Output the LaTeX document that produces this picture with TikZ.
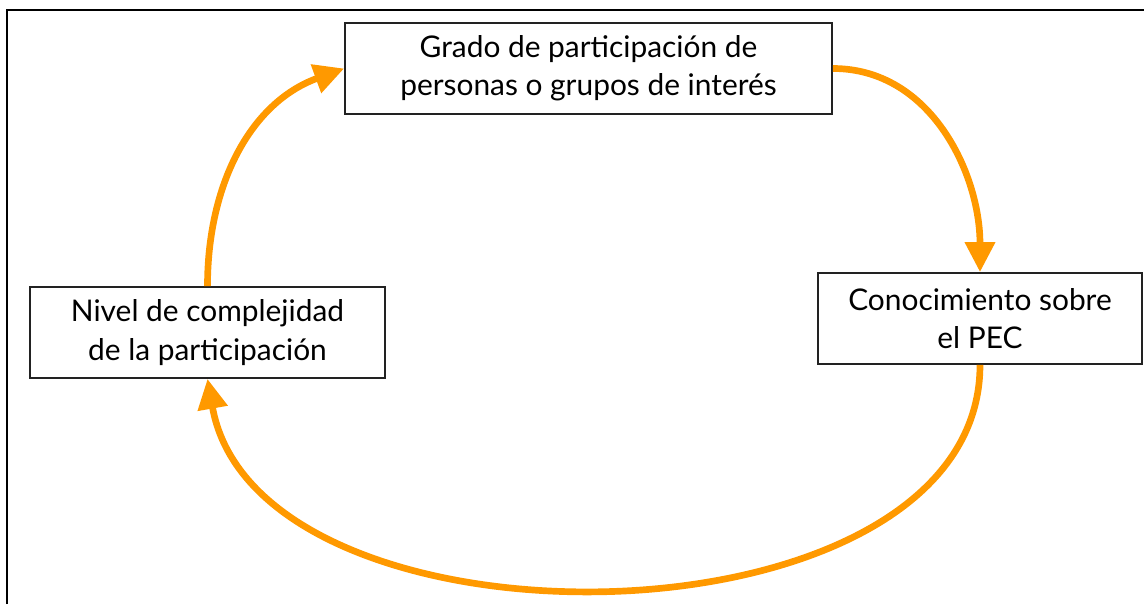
\documentclass[tikz,border=0pt]{standalone}
\usepackage{fontspec}
\setmainfont{Lato}
\usetikzlibrary{arrows.meta}
\definecolor{naranja}{HTML}{FF9900}
\definecolor{borde}{HTML}{222222}
\begin{document}
\begin{tikzpicture}
 \tikzset{caja/.style={draw=borde, line width=1pt, minimum height=1.82cm, inner sep=0pt, align=center, font=\fontsize{17}{21.8}\selectfont}}
 \tikzset{ciclo/.style={draw=naranja, line width=3.8pt, -{Triangle[length=0.6cm, width=0.58cm]}}}
  \useasboundingbox (0,0) rectangle (22.88,12.08);
  \draw[line width=1.1pt] (0.14,0) -- (0.14,11.88) -- (22.88,11.88);
  \node[caja, minimum width=9.74cm] (grado) at (11.77,10.71) {Grado de participación de\\personas o grupos de interés};
  \node[caja, minimum width=6.48cm] (conoc) at (19.6,5.71) {Conocimiento sobre\\el PEC};
  \node[caja, minimum width=7.1cm] (nivel) at (4.15,5.43) {Nivel de complejidad\\de la participación};
  \draw[ciclo] (nivel.north) to[out=90, in=200] (grado.west);
  \draw[ciclo] (grado.east) to[out=0, in=90] (conoc.north);
  \draw[ciclo] (conoc.south) to[out=-90, in=-80, looseness=0.96] (nivel.south);
\end{tikzpicture}
\end{document}
